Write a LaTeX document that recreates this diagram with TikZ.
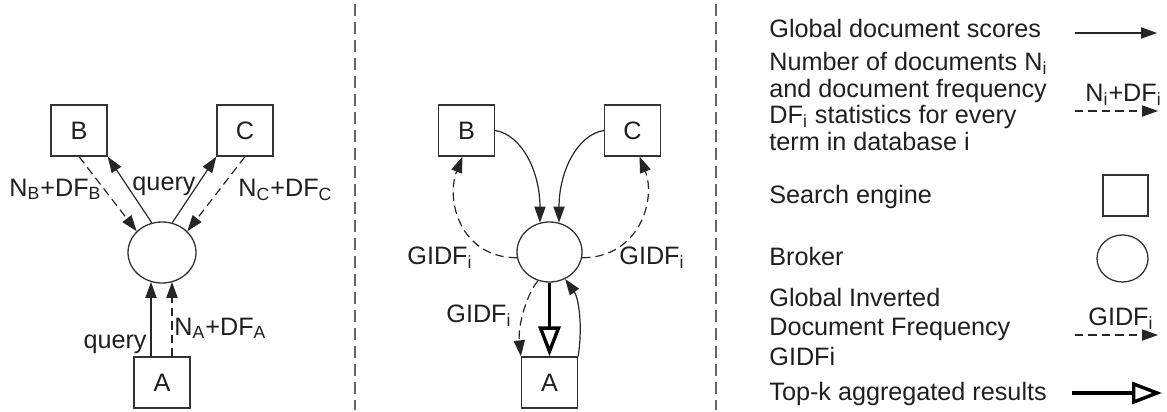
\documentclass[tikz,border=0pt]{standalone}
\usepackage{fontspec}
\setmainfont{Liberation Sans}
\usetikzlibrary{arrows.meta,calc,shapes.geometric}

\begin{document}
\begin{tikzpicture}[x=0.5pt,y=-0.5pt,
  every node/.style={font=\fontsize{12.6pt}{15pt}\selectfont, inner sep=0pt, text=black!88},
  engine/.style={draw=black!80, line width=0.65pt, minimum width=28pt, minimum height=25.5pt},
  broker/.style={draw=black!80, ellipse, line width=0.65pt, minimum width=34pt, minimum height=30.5pt},
  link/.style={draw=black!85, line width=0.6pt, -{Triangle[length=8pt,width=5.6pt]}},
  stat/.style={link, dash pattern=on 4.2pt off 2.5pt},
  result/.style={draw=black, line width=1.7pt, -{Triangle[open,length=15pt,width=11pt]}},
  divider/.style={line width=0.8pt, draw=black!60, dash pattern=on 6pt off 3pt},
  lbl/.style={anchor=base west},
]
\useasboundingbox (0,0) rectangle (1167,412);

% ---------- phase 1: statistics collection ----------
\node[engine] (b1) at (79,130.5) {B};
\node[engine] (c1) at (245,130.5) {C};
\node[broker] (m1) at (162,252.5) {};
\node[engine] (a1) at (162,382.5) {A};

\draw[stat] (b1.south) -- (m1.140);
\draw[link] (m1.109) -- (b1.south east);
\draw[link] (m1.71) -- (c1.south west);
\draw[stat] (c1.south) -- (m1.40);

\coordinate (qa) at ($(a1.north)+(-11,0)$);
\coordinate (qb) at ($(a1.north)+(10,0)$);
\draw[link] (qa) -- (qa |- m1.249);
\draw[stat] (qb) -- (qb |- m1.291);

\node[lbl] (lnb) at (9,196) {N\textsubscript{B}+DF\textsubscript{B}};
\node[anchor=base] (lq1) at (164,190) {query};
\node[lbl] (lnc) at (238,196) {N\textsubscript{C}+DF\textsubscript{C}};
\node[anchor=base east] (lq2) at (147,348) {query};
\node[lbl] (lna) at (174,335) {N\textsubscript{A}+DF\textsubscript{A}};

% ---------- phase 2: scoring and merging ----------
\node[engine] (b2) at (466.5,130.5) {B};
\node[engine] (c2) at (632.5,130.5) {C};
\node[broker, minimum width=32.5pt, minimum height=30pt] (m2) at (549.5,252) {};
\node[engine] (a2) at (549.5,382.5) {A};

\draw[link] (b2.east) .. controls +(26,4) and +(0,-52) .. (m2.108);
\draw[link] (c2.west) .. controls +(-26,4) and +(0,-52) .. (m2.72);
\draw[stat] (m2.190) .. controls +(-57,0) and +(-17,43) .. ($(b2.south)+(-4,0)$);
\draw[stat] (m2.-10) .. controls +(57,0) and +(17,43) .. ($(c2.south)+(7,0)$);
\draw[stat] (m2.248) .. controls +(-12,15) and +(-3,-30) .. (a2.north west);
\draw[result] (m2.south) -- (a2.north);
\draw[link] (a2.north east) .. controls +(5,-32) and +(13,18) .. (m2.-60);

\node[lbl] (lg1) at (407,264) {GIDF\textsubscript{i}};
\node[lbl] (lg2) at (619,264) {GIDF\textsubscript{i}};
\node[lbl] (lg3) at (446,322) {GIDF\textsubscript{i}};

% ---------- separators ----------
\coordinate (d1t) at (355,4);
\coordinate (d1b) at (355,410);
\coordinate (d2t) at (716,4);
\coordinate (d2b) at (716,410);
\draw[divider] (d1t) -- (d1b);
\draw[divider] (d2t) -- (d2b);

% ---------- legend ----------
\node[lbl] (t1) at (769,37) {Global document scores};
\node[lbl] (t2) at (769,70) {Number of documents N\textsubscript{i}};
\node[lbl] (t3) at (769,97) {and document frequency};
\node[lbl] (t4) at (769,123) {DF\textsubscript{i} statistics for every};
\node[lbl] (t5) at (769,150) {term in database i};
\node[lbl] (t6) at (769,203) {Search engine};
\node[lbl] (t7) at (769,265) {Broker};
\node[lbl] (t8) at (769,306) {Global Inverted};
\node[lbl] (t9) at (769,335) {Document Frequency};
\node[lbl] (t10) at (769,365) {GIDFi};
\node[lbl] (t11) at (769,400) {Top-k aggregated results};

\coordinate (k1s) at (1075,33);
\coordinate (k1e) at (1157,33);
\draw[link] (k1s) -- (k1e);

\node[lbl] (kn) at (1085,101) {N\textsubscript{i}+DF\textsubscript{i}};
\coordinate (k2s) at (1075,111);
\coordinate (k2e) at (1158,111);
\draw[stat] (k2s) -- (k2e);

\node[engine, minimum width=22.5pt, minimum height=20.5pt] (ke) at (1125.5,195.5) {};
\node[broker, minimum width=25.5pt, minimum height=23.5pt] (kb) at (1122.5,258.5) {};

\node[lbl] (kg) at (1088,325) {GIDF\textsubscript{i}};
\coordinate (k3s) at (1075,335);
\coordinate (k3e) at (1158,335);
\draw[stat] (k3s) -- (k3e);

\coordinate (k4s) at (1072,393);
\coordinate (k4e) at (1162,393);
\draw[result] (k4s) -- (k4e);
\end{tikzpicture}
\end{document}
